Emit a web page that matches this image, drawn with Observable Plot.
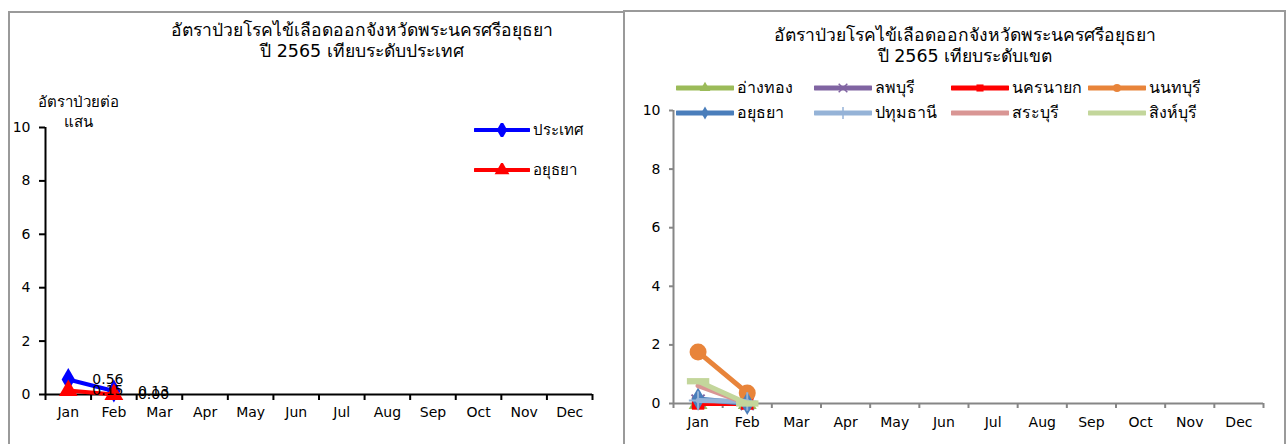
<!DOCTYPE html>
<html><head><meta charset="utf-8">
<script src="https://cdn.jsdelivr.net/npm/d3@7"></script>
<script src="https://cdn.jsdelivr.net/npm/@observablehq/plot@0.6"></script>
<style>
body{margin:0;background:#fff;font-family:Tahoma,"DejaVu Sans",sans-serif;}
#wrap{position:relative;width:1288px;height:444px;overflow:hidden;background:#fff;}
.panel{position:absolute;border:2px solid #9a9a9a;background:#fff;box-sizing:border-box;}
.title{position:absolute;text-align:center;font-size:17.5px;line-height:21px;color:#000;white-space:nowrap;}
.lg{position:absolute;font-size:14px;line-height:18px;display:flex;align-items:center;white-space:nowrap;color:#000;}
.lg svg{display:block;margin-right:3px;}
#wrap svg.plotsvg{position:absolute;top:0;max-width:none;}
</style></head><body>
<div id="wrap">
  <div class="panel" style="left:8px;top:11px;width:620px;height:440px;"></div>
  <div class="panel" style="left:623px;top:10px;width:663px;height:440px;"></div>
  <div class="title" style="left:162px;top:20px;width:400px;">อัตราป่วยโรคไข้เลือดออกจังหวัดพระนครศรีอยุธยา<br>ปี 2565 เทียบระดับประเทศ</div>
  <div class="title" style="left:765px;top:25px;width:400px;">อัตราป่วยโรคไข้เลือดออกจังหวัดพระนครศรีอยุธยา<br>ปี 2565 เทียบระดับเขต</div>
  <div class="title" style="left:28px;top:92px;width:100px;font-size:15px;line-height:20px;">อัตราป่วยต่อ<br>แสน</div>
</div>
<script>
// ---- data ----
const months = ["Jan","Feb","Mar","Apr","May","Jun","Jul","Aug","Sep","Oct","Nov","Dec"];
const yTicks = [0, 2, 4, 6, 8, 10];

// left chart
const leftNames = ["ประเทศ", "อยุธยา"];
const countryRate = [0.56, 0.13];
const ayutthayaRate = [0.15, 0.00];
const leftColors = ["#0000FF", "#FF0000"];
const leftSymbols = ["diamond", "triangle"];

// right chart
const rightNames = ["อ่างทอง","ลพบุรี","นครนายก","นนทบุรี","อยุธยา","ปทุมธานี","สระบุรี","สิงห์บุรี"];
const angthong = [0.00, 0.00];
const lopburi = [0.08, 0.00];
const nakhonnayok = [0.00, 0.00];
const nonthaburi = [1.76, 0.36];
const ayutthaya = [0.15, 0.00];
const pathumthani = [0.10, 0.07];
const saraburi = [0.61, 0.00];
const singburi = [0.76, 0.00];
const rightColors = ["#9BBB59","#8064A2","#FF0000","#E8843A","#4A7EBB","#95B3D7","#D99694","#C3D69B"];
const rightSymbols = ["triangle","times","square","circle","diamond","plus",null,"dash"];

// ---- helpers ----
const dashSymbol = {draw(ctx, size){ const r = Math.sqrt(size/Math.PI); ctx.rect(-r*1.6, -r*0.45, r*3.2, r*0.9); }};
const symFor = s => s === "dash" ? dashSymbol : s;
const rowsOf = (names, arrays) => names.flatMap((name, k) => arrays[k].map((v, i) => ({name, i: i + 0.5, v})));
const font = 'Tahoma,"DejaVu Sans",sans-serif';
const wrap = document.getElementById("wrap");

// ---- left plot ----
const leftRows = rowsOf(leftNames, [countryRate, ayutthayaRate]);
const left = Plot.plot({
  width: 620, height: 444,
  marginLeft: 45, marginRight: 28, marginTop: 127, marginBottom: 50,
  style: {background: "transparent", fontFamily: font, fontSize: "14px", color: "#000", overflow: "visible"},
  x: {type: "linear", domain: [0, months.length]},
  y: {domain: [0, 10]},
  marks: [
    Plot.axisY({ticks: yTicks, tickSize: 6, tickPadding: 9, strokeWidth: 2, fontSize: 14, label: null}),
    Plot.axisX({ticks: d3.range(months.length + 1), tickSize: 6, strokeWidth: 2, tickFormat: () => "", label: null}),
    Plot.axisX({ticks: months.map((m, i) => i + 0.5), tickSize: 0, tickPadding: 13, fontSize: 14, tickFormat: d => months[Math.floor(d)], label: null}),
    Plot.ruleX([0], {y1: 0, y2: 10, stroke: "#000", strokeWidth: 2}),
    Plot.ruleY([0], {x1: 0, x2: months.length, stroke: "#000", strokeWidth: 2}),
    ...leftNames.flatMap((name, k) => {
      const d = leftRows.filter(r => r.name === name);
      return [
        Plot.line(d, {x: "i", y: "v", stroke: leftColors[k], strokeWidth: 4}),
        Plot.dot(d, {x: "i", y: "v", fill: leftColors[k], symbol: leftSymbols[k], r: 7})
      ];
    }),
    Plot.text(leftRows, {x: "i", y: "v", text: d => d.v.toFixed(2), textAnchor: "start", dx: 24, fontSize: 14, fill: "#000"})
  ]
});
left.classList.add("plotsvg");
left.style.left = "0px";
wrap.appendChild(left);

// ---- right plot ----
const rightRows = rowsOf(rightNames, [angthong, lopburi, nakhonnayok, nonthaburi, ayutthaya, pathumthani, saraburi, singburi]);
const right = Plot.plot({
  width: 668, height: 444,
  marginLeft: 53, marginRight: 25, marginTop: 110, marginBottom: 41,
  style: {background: "transparent", fontFamily: font, fontSize: "14px", color: "#000", overflow: "visible"},
  x: {type: "linear", domain: [0, months.length]},
  y: {domain: [0, 10]},
  marks: [
    Plot.axisY({ticks: yTicks, tickSize: 4, tickPadding: 9, stroke: "#868686", strokeWidth: 2, fontSize: 14, label: null}),
    Plot.axisX({ticks: d3.range(months.length + 1), tickSize: 5, stroke: "#868686", strokeWidth: 2, tickFormat: () => "", label: null}),
    Plot.axisX({ticks: months.map((m, i) => i + 0.5), tickSize: 0, tickPadding: 14, fontSize: 14, tickFormat: d => months[Math.floor(d)], label: null}),
    Plot.ruleX([0], {y1: 0, y2: 10, stroke: "#868686", strokeWidth: 2}),
    Plot.ruleY([0], {x1: 0, x2: months.length, stroke: "#868686", strokeWidth: 2}),
    ...rightNames.flatMap((name, k) => {
      const d = rightRows.filter(r => r.name === name);
      const s = rightSymbols[k];
      const out = [Plot.line(d, {x: "i", y: "v", stroke: rightColors[k], strokeWidth: 5})];
      if (s === "times" || s === "plus") out.push(Plot.dot(d, {x: "i", y: "v", stroke: rightColors[k], strokeWidth: 2, symbol: s, r: 6}));
      else if (s) out.push(Plot.dot(d, {x: "i", y: "v", fill: rightColors[k], symbol: symFor(s), r: s === "circle" ? 8.5 : 7}));
      return out;
    })
  ]
});
right.classList.add("plotsvg");
right.style.left = "620px";
wrap.appendChild(right);

// ---- legends ----
function swatch(color, sym, len, sw, mr) {
  const ns = "http://www.w3.org/2000/svg";
  const svg = document.createElementNS(ns, "svg");
  svg.setAttribute("width", len); svg.setAttribute("height", 14);
  const line = document.createElementNS(ns, "line");
  line.setAttribute("x1", 1); line.setAttribute("x2", len - 1); line.setAttribute("y1", 7); line.setAttribute("y2", 7);
  line.setAttribute("stroke", color); line.setAttribute("stroke-width", sw); line.setAttribute("stroke-linecap", "round");
  svg.appendChild(line);
  const map = {diamond: d3.symbolDiamond, triangle: d3.symbolTriangle, square: d3.symbolSquare, circle: d3.symbolCircle, times: d3.symbolTimes, plus: d3.symbolPlus};
  if (sym && map[sym]) {
    const p = document.createElementNS(ns, "path");
    p.setAttribute("d", d3.symbol(map[sym], mr * mr * Math.PI)());
    p.setAttribute("transform", `translate(${len / 2},7)`);
    if (sym === "times" || sym === "plus") { p.setAttribute("fill", "none"); p.setAttribute("stroke", color); p.setAttribute("stroke-width", 1.5); }
    else p.setAttribute("fill", color);
    svg.appendChild(p);
  }
  return svg;
}
function legendItem(name, color, sym, x, y, len, sw, mr, fs) {
  const div = document.createElement("div");
  div.className = "lg";
  div.style.left = x + "px"; div.style.top = (y - 9) + "px";
  div.style.fontSize = fs + "px";
  div.appendChild(swatch(color, sym, len, sw, mr));
  const span = document.createElement("span"); span.textContent = name;
  div.appendChild(span);
  wrap.appendChild(div);
}
const leftLegendY = [130, 170];
leftNames.forEach((n, k) => legendItem(n, leftColors[k], leftSymbols[k], 474, leftLegendY[k], 56, 4, 5.5, 15));
const rightLegendX = [676, 814, 951, 1088];
const rightLegendY = [88, 113];
rightNames.forEach((n, k) => legendItem(n, rightColors[k], rightSymbols[k] === "dash" ? null : rightSymbols[k], rightLegendX[k % 4], rightLegendY[Math.floor(k / 4)], 58, 5, 4, 16));
</script>
</body></html>
